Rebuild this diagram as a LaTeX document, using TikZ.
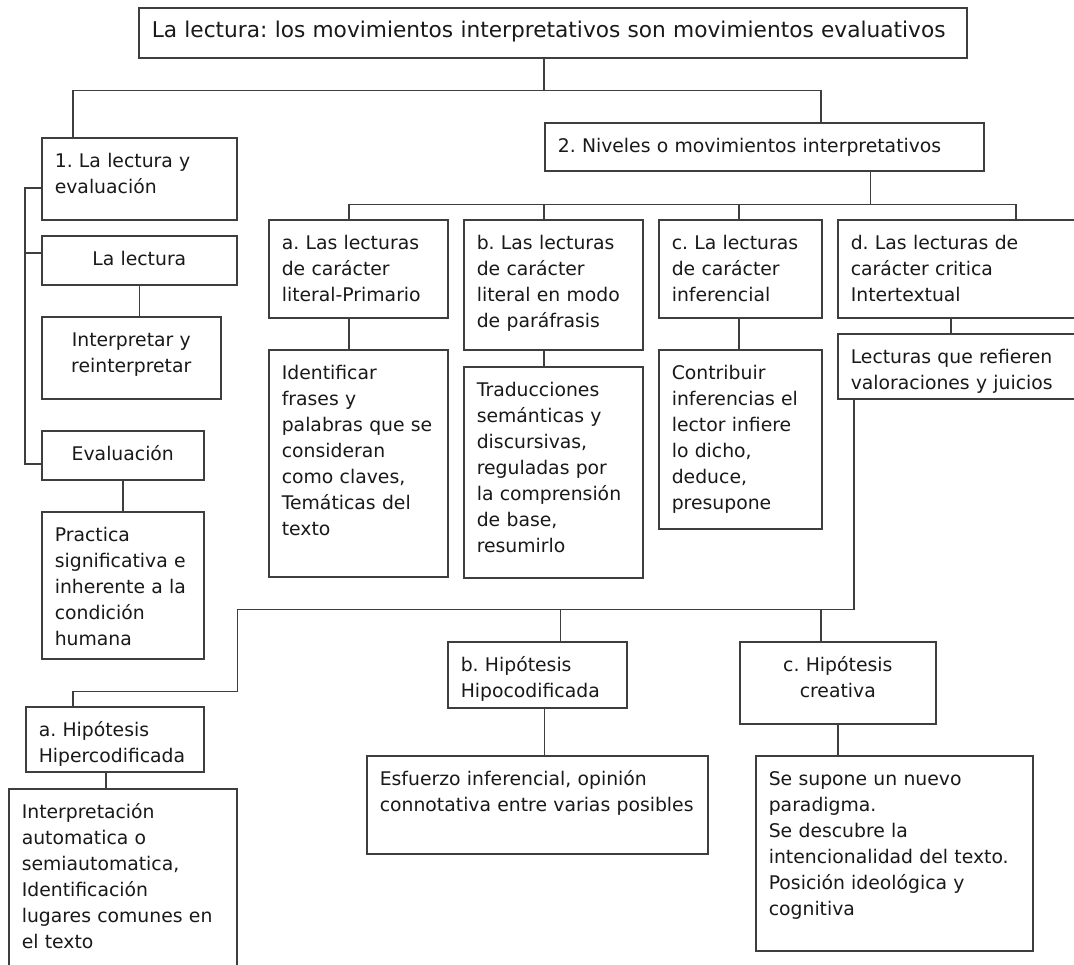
\documentclass[tikz,border=0pt]{standalone}
\usepackage{fontspec}
\setmainfont{DejaVu Sans}
\usepackage{tikz}
\definecolor{linec}{RGB}{62,62,62}
\definecolor{textc}{RGB}{25,25,25}
\frenchspacing

\begin{document}
\begin{tikzpicture}[
  x=1pt, y=-1pt,
  font=\fontsize{18.8}{26}\selectfont,
  box/.style={draw=linec, line width=1.6pt, anchor=north west, align=left,
    inner xsep=13pt, inner ysep=0pt, text height=30pt, text=textc},
  cbox/.style={box, align=center},
  link/.style={draw=linec, line width=1.6pt}
]
\useasboundingbox[fill=white] (0,0) rectangle (1074,965);

% --- Title ---
\node[box, text width=802pt, text depth=20pt, font=\fontsize{21.7}{26}\selectfont] (title) at (138,7)
{La lectura: los movimientos interpretativos son movimientos evaluativos};

% --- Left column ---
\node[box, text width=169pt, text depth=52pt] (box1) at (41,137) {1. La lectura y\\evaluación};
\node[cbox, text width=169pt, text depth=19pt] (lect) at (41,235) {La lectura};
\node[cbox, text width=153pt, text depth=52pt] (interp) at (41,316) {Interpretar y\\reinterpretar};
\node[cbox, text width=136pt, text depth=19pt] (evalu) at (41,430) {Evaluación};
\node[box, text width=136pt, text depth=117pt] (pract) at (41,511)
{Practica\\significativa e\\inherente a la\\condición\\humana};

% --- Levels ---
\node[box, text width=413pt, text depth=18pt] (niv) at (544,122) {2. Niveles o movimientos interpretativos};

\node[box, text width=153pt, text depth=68pt] (la) at (268,219) {a. Las lecturas\\de carácter\\literal-Primario};
\node[box, text width=153pt, text depth=100pt] (lb) at (463,219) {b. Las lecturas\\de carácter\\literal en modo\\de paráfrasis};
\node[box, text width=137pt, text depth=68pt] (lc) at (658,219) {c. La lecturas\\de carácter\\inferencial};
\node[box, text width=227pt, text depth=68pt] (ld) at (837,219) {d. Las lecturas de\\carácter critica\\Intertextual};

\node[box, text width=153pt, text depth=197pt] (la2) at (268,349)
{Identificar\\frases y\\palabras que se\\consideran\\como claves,\\Temáticas del\\texto};
\node[box, text width=153pt, text depth=181pt] (lb2) at (463,366)
{Traducciones\\semánticas y\\discursivas,\\reguladas por\\la comprensión\\de base,\\resumirlo};
\node[box, text width=137pt, text depth=149pt] (lc2) at (658,349)
{Contribuir\\inferencias el\\lector infiere\\lo dicho,\\deduce,\\presupone};
\node[box, text width=227pt, text depth=35pt] (ld2) at (837,333)
{Lecturas que refieren\\valoraciones y juicios};

% --- Hypotheses ---
\node[box, text width=152pt, text depth=35pt] (ha) at (25,706) {a. Hipótesis\\Hipercodificada};
\node[box, text width=153pt, text depth=36pt] (hb) at (447,641) {b. Hipótesis\\Hipocodificada};
\node[cbox, text width=170pt, text depth=52pt] (hc) at (739,641) {c. Hipótesis\\creativa};

\node[box, text width=202pt, text depth=182pt] (ha2) at (8,788)
{Interpretación\\automatica o\\semiautomatica,\\Identificación\\lugares comunes en\\el texto};
\node[box, text width=315pt, text depth=68pt] (hb2) at (366,755)
{Esfuerzo inferencial, opinión\\connotativa entre varias posibles};
\node[box, text width=251pt, text depth=165pt] (hc2) at (755,755)
{Se supone un nuevo\\paradigma.\\Se descubre la\\intencionalidad del texto.\\Posición ideológica y\\cognitiva};

% --- Connectors ---
\draw[link] (title.south -| niv.west) -- ++(0,32) coordinate (tj);
\draw[link] (tj) -| ([xshift=32pt]box1.north west);
\draw[link] (tj) -| ([xshift=277pt]niv.north west);

\draw[link] ([yshift=-9pt]box1.west) -- ++(-16,0) |- ([yshift=-8.5pt]evalu.west);
\draw[link] ([yshift=7.5pt]lect.west) -- ++(-16,0);
\draw[link] (lect.south) -- (lect.south |- interp.north);
\draw[link] (evalu.south) -- (pract.north);

\draw[link] ([xshift=106pt]niv.south) -- ++(0,33) coordinate (nj);
\draw[link] (nj) -| ([xshift=81pt]la.north west);
\draw[link] (nj) -| ([xshift=81pt]lb.north west);
\draw[link] (nj) -| ([xshift=81pt]lc.north west);
\draw[link] (nj) -| ([xshift=179pt]ld.north west);

\draw[link] ([xshift=81pt]la.south west) -- ([xshift=81pt]la2.north west);
\draw[link] ([xshift=81pt]lb.south west) -- ([xshift=81pt]lb2.north west);
\draw[link] ([xshift=81pt]lc.south west) -- ([xshift=81pt]lc2.north west);
\draw[link] ([xshift=114pt]ld.south west) -- ([xshift=114pt]ld2.north west);

\draw[link] ([xshift=17pt]ld2.south west) -- ++(0,210) coordinate (hj);
\draw[link] (hj) -| ([xshift=113.5pt]hb.north west);
\draw[link] (hj) -| ([xshift=82pt]hc.north west);
\draw[link] (hj) -- (hj -| ha2.east) -- ++(0,82) -| ([xshift=48pt]ha.north west);

\draw[link] ([xshift=81pt]ha.south west) -- ([xshift=98pt]ha2.north west);
\draw[link] ([xshift=97.5pt]hb.south west) -- ([xshift=178.5pt]hb2.north west);
\draw[link] (hc.south) -- (hc.south |- hc2.north);

\end{tikzpicture}
\end{document}
